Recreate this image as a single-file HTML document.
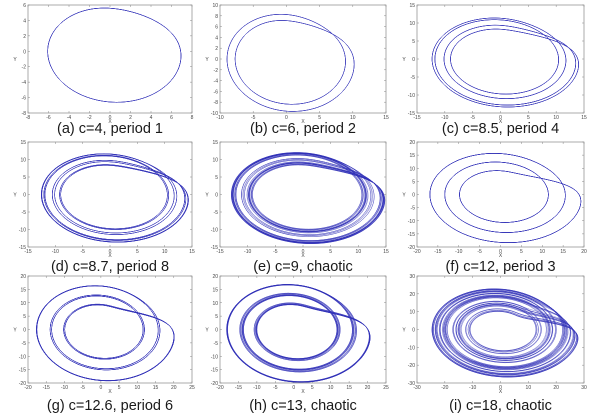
<!DOCTYPE html>
<html><head><meta charset="utf-8">
<style>
body{margin:0;width:600px;height:416px;background:#fff;overflow:hidden;position:relative;font-family:"Liberation Sans",Arial,sans-serif}
svg{position:absolute;left:0;top:0}
.cap{position:absolute;font-size:14.5px;color:#1a1a1a;white-space:nowrap;transform:translateX(-50%)}
</style></head>
<body>
<svg id="fig" width="600" height="416"></svg>
<script>
// Rössler system parameters (a=b=0.1), control parameter c per panel
const cValues = [4, 6, 8.5, 8.7, 9, 12, 12.6, 13, 18];
const captions = ["(a) c=4, period 1","(b) c=6, period 2","(c) c=8.5, period 4","(d) c=8.7, period 8","(e) c=9, chaotic","(f) c=12, period 3","(g) c=12.6, period 6","(h) c=13, chaotic","(i) c=18, chaotic"];
const xMins = [-8,-10,-15,-15,-15,-20,-20,-20,-30];
const xMaxs = [8,15,15,15,15,20,25,25,30];
const xSteps = [2,5,5,5,5,5,5,5,10];
const yMins = [-8,-10,-15,-15,-15,-20,-20,-20,-30];
const yMaxs = [6,10,15,15,15,20,20,20,30];
const ySteps = [2,2,5,5,5,5,5,5,10];
const plotTimes = [40,60,150,250,300,150,250,300,400];

const colL=[28,220,417], colR=[192,386,584];
const rowT=[5,142,276], rowB=[113,247,383], capY=[121,259,398];
const NS="http://www.w3.org/2000/svg";
const fig=document.getElementById('fig');
function mk(t,a,p){const e=document.createElementNS(NS,t);for(const k in a)e.setAttribute(k,a[k]);(p||fig).appendChild(e);return e;}

function rossler(c,T){
  const a=0.1,b=0.1,dt=0.01;
  let x=1,y=1,z=0;
  const f=(x,y,z)=>[-y-z, x+a*y, b+z*(x-c)];
  const pts=[];
  const total=Math.round((300+T)/dt);
  for(let i=0;i<total;i++){
    const k1=f(x,y,z);
    const k2=f(x+dt/2*k1[0],y+dt/2*k1[1],z+dt/2*k1[2]);
    const k3=f(x+dt/2*k2[0],y+dt/2*k2[1],z+dt/2*k2[2]);
    const k4=f(x+dt*k3[0],y+dt*k3[1],z+dt*k3[2]);
    x+=dt/6*(k1[0]+2*k2[0]+2*k3[0]+k4[0]);
    y+=dt/6*(k1[1]+2*k2[1]+2*k3[1]+k4[1]);
    z+=dt/6*(k1[2]+2*k2[2]+2*k3[2]+k4[2]);
    if(i*dt>=300 && i%3===0) pts.push([x,y]);
  }
  return pts;
}

for(let i=0;i<9;i++){
  const r=Math.floor(i/3), cI=i%3;
  const L=colL[cI],R=colR[cI],T=rowT[r],B=rowB[r];
  const sx=v=>L+(v-xMins[i])/(xMaxs[i]-xMins[i])*(R-L);
  const sy=v=>B-(v-yMins[i])/(yMaxs[i]-yMins[i])*(B-T);
  const g=mk('g',{});
  
  
  const box=mk('rect',{x:L,y:T,width:R-L,height:B-T,fill:'#fff',stroke:'#888','stroke-width':0.7},g);
  
  
  for(let v=xMins[i];v<=xMaxs[i]+1e-9;v+=xSteps[i]){
    const X=sx(v);
    mk('line',{x1:X,x2:X,y1:B,y2:B-2,stroke:'#888','stroke-width':0.5},g);
    mk('line',{x1:X,x2:X,y1:T,y2:T+2,stroke:'#888','stroke-width':0.5},g);
    const t=mk('text',{x:X,y:B+6,'font-size':5,'text-anchor':'middle',fill:'#444'},g);
    t.textContent=v;
    
    
  }
  for(let v=yMins[i];v<=yMaxs[i]+1e-9;v+=ySteps[i]){
    const Y=sy(v);
    mk('line',{x1:L,x2:L+2,y1:Y,y2:Y,stroke:'#888','stroke-width':0.5},g);
    mk('line',{x1:R,x2:R-2,y1:Y,y2:Y,stroke:'#888','stroke-width':0.5},g);
    const t=mk('text',{x:L-2,y:Y+2,'font-size':5,'text-anchor':'end',fill:'#444'},g);
    t.textContent=v;
    
    
  }
  const xl=mk('text',{x:(L+R)/2,y:B+10,'font-size':5,'text-anchor':'middle',fill:'#444'},g);
  xl.textContent='X';
  
  
  const yl=mk('text',{x:L-13,y:(T+B)/2+2,'font-size':5,'text-anchor':'middle',fill:'#444'},g);
  yl.textContent='Y';
  
  
  const pts=rossler(cValues[i],plotTimes[i]);
  let d='';
  pts.forEach((p,k)=>{d+=(k?'L':'M')+sx(p[0]).toFixed(1)+' '+sy(p[1]).toFixed(1);});
  const path=mk('path',{d:d,fill:'none',stroke:'#3030b8','stroke-width':0.45,'stroke-opacity':0.7},g);
  
  
  const cap=document.createElement('div');
  cap.className='cap';
  cap.style.left=((L+R)/2)+'px';
  cap.style.top=capY[r]+'px';
  cap.textContent=captions[i];
  
  
  document.body.appendChild(cap);
}
</script>
</body></html>
